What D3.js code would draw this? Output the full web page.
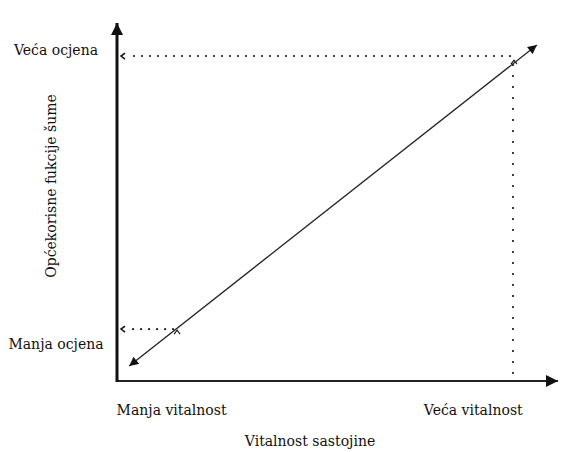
<!DOCTYPE html>
<html>
<head>
<meta charset="utf-8">
<script src="https://cdn.jsdelivr.net/npm/d3@7"></script>
<style>
  body { margin: 0; background: #fff; }
  text { font-family: "DejaVu Serif", "Liberation Serif", serif; fill: #111; font-size: 14px; }
</style>
</head>
<body>
<div id="chart"></div>
<script>
const svgWidth = 569,
      svgHeight = 452;

// conceptual chart, values on a 0..10 scale
const xLabels = ["Manja vitalnost", "Veća vitalnost"];
const xLabelPos = [1.21, 7.9];
const yLabels = ["Manja ocjena", "Veća ocjena"];
const yLabelPos = [1.0, 9.0];
const trendX = [0.27, 9.31];
const trendY = [0.41, 9.13];
const guideX = [1.31, 8.78];
const guideY = [1.41, 8.83];
const xTitle = "Vitalnost sastojine";
const yTitle = "Općekorisne fukcije šume";

let scaleX = d3.scaleLinear().domain([0, 10]).range([117, 568]),
    scaleY = d3.scaleLinear().domain([0, 10]).range([381, 13]);

let svg = d3.select("#chart")
  .append("svg")
  .attr("width", svgWidth)
  .attr("height", svgHeight);

let defs = svg.append("defs");
defs.append("marker")
    .attr("id", "axisHead")
    .attr("viewBox", "0 0 12 12")
    .attr("refX", 12).attr("refY", 6)
    .attr("markerWidth", 13).attr("markerHeight", 12)
    .attr("markerUnits", "userSpaceOnUse")
    .attr("orient", "auto")
  .append("path")
    .attr("d", "M0,0L12,6L0,12Z")
    .attr("fill", "#111");
defs.append("marker")
    .attr("id", "lineHead")
    .attr("viewBox", "0 0 10 10")
    .attr("refX", 10).attr("refY", 5)
    .attr("markerWidth", 10).attr("markerHeight", 9)
    .attr("markerUnits", "userSpaceOnUse")
    .attr("orient", "auto-start-reverse")
  .append("path")
    .attr("d", "M0,0L10,5L0,10Z")
    .attr("fill", "#111");

// axes (no ticks, just the lines)
let xAxis = svg.append("g")
  .attr("transform", "translate(0," + scaleY(0) + ")")
  .call(d3.axisBottom(scaleX).tickValues([]).tickSizeOuter(0));
xAxis.select(".domain")
  .attr("stroke", "#222")
  .attr("stroke-width", 2)
  .attr("d", "M" + scaleX(0) + ",0H" + (scaleX(10) - 10))
  .attr("marker-end", "url(#axisHead)");

let yAxis = svg.append("g")
  .attr("transform", "translate(" + scaleX(0) + ",0)")
  .call(d3.axisLeft(scaleY).tickValues([]).tickSizeOuter(0));
yAxis.select(".domain")
  .attr("stroke", "#111")
  .attr("stroke-width", 3)
  .attr("d", "M0," + (scaleY(0) + 1) + "V" + (scaleY(10) + 10))
  .attr("marker-end", "url(#axisHead)");

// dotted guide lines
let guides = svg.append("g")
  .attr("fill", "none")
  .attr("stroke", "#111")
  .attr("stroke-width", 1.6);

guides.selectAll("line.hguide")
  .data([0, 1])
  .enter()
  .append("line")
  .attr("class", "hguide")
  .attr("x1", i => scaleX(guideX[i]) - 2).attr("y1", i => scaleY(guideY[i]))
  .attr("x2", scaleX(0) + 10).attr("y2", i => scaleY(guideY[i]))
  .attr("stroke-dasharray", "2,6");

// open heads at the y axis end of the guides
guides.selectAll("path.chev")
  .data([0, 1])
  .enter()
  .append("path")
  .attr("class", "chev")
  .attr("stroke-width", 1.5)
  .attr("d", function(i) {
    let tx = scaleX(0) + 4, ty = scaleY(guideY[i]);
    return "M" + (tx + 4) + "," + (ty - 3) + "L" + tx + "," + ty + "L" + (tx + 4) + "," + (ty + 3);
  });

guides.append("line")
  .attr("x1", scaleX(guideX[1])).attr("y1", scaleY(guideY[1]) + 8)
  .attr("x2", scaleX(guideX[1])).attr("y2", scaleY(0))
  .attr("stroke-dasharray", "2,9");

// little carets where the guides meet the line
guides.selectAll("path.caret")
  .data([0, 1])
  .enter()
  .append("path")
  .attr("class", "caret")
  .attr("stroke-width", 1.1)
  .attr("d", function(i) {
    let cx = scaleX(guideX[i]) + 1, cy = scaleY(guideY[i]) + (i == 0 ? 1 : 4);
    return "M" + (cx - 3) + "," + (cy + 4) + "L" + cx + "," + cy + "L" + (cx + 3) + "," + (cy + 4);
  });

// trend line with arrows on both ends
svg.append("path")
  .datum(d3.zip(trendX, trendY))
  .attr("d", d3.line().x(d => scaleX(d[0])).y(d => scaleY(d[1])))
  .attr("fill", "none")
  .attr("stroke", "#222")
  .attr("stroke-width", 1.3)
  .attr("marker-start", "url(#lineHead)")
  .attr("marker-end", "url(#lineHead)");

// labels
svg.selectAll("text.ylab")
  .data(yLabels)
  .enter()
  .append("text")
  .attr("class", "ylab")
  .attr("x", 56)
  .attr("y", (d, i) => scaleY(yLabelPos[i]) + 5)
  .style("text-anchor", "middle")
  .text(d => d);

svg.selectAll("text.xlab")
  .data(xLabels)
  .enter()
  .append("text")
  .attr("class", "xlab")
  .attr("x", (d, i) => scaleX(xLabelPos[i]))
  .attr("y", 415)
  .style("text-anchor", "middle")
  .text(d => d);

svg.append("text")
  .attr("x", 310)
  .attr("y", 446)
  .style("text-anchor", "middle")
  .text(xTitle);

svg.append("text")
  .attr("transform", "translate(56," + 186 + ")rotate(-90)")
  .style("text-anchor", "middle")
  .text(yTitle);
</script>
</body>
</html>
